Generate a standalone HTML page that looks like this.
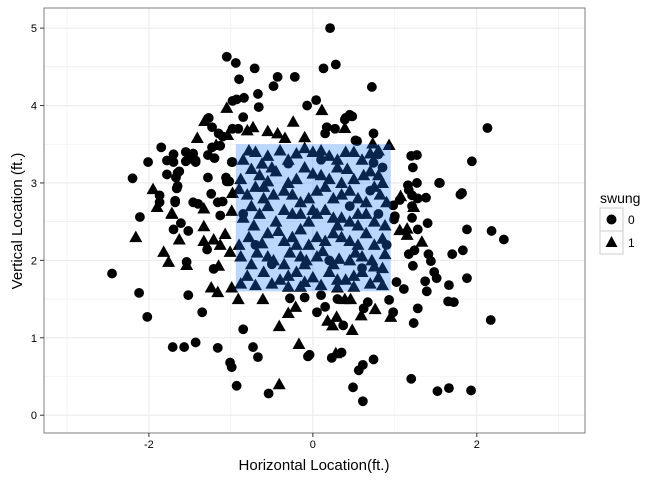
<!DOCTYPE html>
<html><head><meta charset="utf-8"><style>
body{margin:0;background:#fff;font-family:"Liberation Sans",sans-serif}
</style></head><body>
<svg id="chart" width="672" height="480" xmlns="http://www.w3.org/2000/svg" font-family="Liberation Sans, sans-serif">
<g id="grid"></g>
<g id="points"></g>
<rect id="zone" fill="rgba(30,120,255,0.3)"></rect>
<rect x="44" y="8" width="541" height="425" fill="none" stroke="#7f7f7f" stroke-width="1"/>
<g id="axes"></g>
<text x="314" y="470" text-anchor="middle" font-size="15">Horizontal Location(ft.)</text>
<text transform="translate(22,221) rotate(-90)" text-anchor="middle" font-size="15">Vertical Location (ft.)</text>
<g>
<text x="600" y="203" font-size="14">swung</text>
<rect x="600" y="208" width="23" height="23" fill="#fff" stroke="#ccc"/>
<circle cx="611.5" cy="219.5" r="5" fill="#000"/>
<text x="628" y="224" font-size="12">0</text>
<rect x="600" y="231" width="23" height="23" fill="#fff" stroke="#ccc"/>
<polygon points="611.5,236 617.5,247 605.5,247" fill="#000"/>
<text x="628" y="247" font-size="12">1</text>
</g>
</svg>
<script>
const xTicks=[-2,0,2];
const yTicks=[0,1,2,3,4,5];
const zoneX=[-0.94,0.95];
const zoneY=[1.6,3.5];
const circles=[[0.21,5.0],[-1.05,4.63],[-0.94,4.55],[-0.71,4.48],[0.13,4.48],[0.28,4.53],[-0.22,4.37],[-0.43,4.37],[-0.9,4.34],[0.72,4.24],[-0.48,4.25],[-0.67,4.15],[-0.93,4.08],[-0.84,4.1],[0.04,4.07],[-0.07,4.0],[-0.66,3.98],[0.45,3.88],[0.4,3.84],[0.17,3.72],[-0.85,3.85],[-0.98,3.7],[-1.23,3.72],[-1.1,3.6],[0.74,3.64],[0.52,3.55],[-1.13,3.48],[-1.28,3.36],[-1.7,3.27],[-1.55,3.28],[-1.46,3.38],[-1.43,3.27],[-1.2,3.32],[-0.99,3.27],[2.13,3.71],[1.94,3.28],[-2.2,3.06],[-1.65,3.13],[-1.66,2.93],[-1.28,3.07],[-1.05,3.02],[-1.68,2.75],[-1.16,2.75],[-1.87,2.84],[1.55,3.0],[1.8,2.85],[1.21,2.84],[1.28,2.8],[1.38,2.81],[1.21,2.7],[1.06,2.78],
[1.88,2.4],[2.18,2.38],[2.33,2.27],[1.0,2.57],[1.7,2.08],[1.83,2.13],[1.88,1.77],[2.17,1.23],[1.66,1.68],[1.72,1.46],[1.65,1.47],[1.51,1.77],[1.48,1.85],[1.44,1.99],[1.41,2.08],[1.37,1.73],[1.39,1.6],[1.28,1.38],[1.23,1.19],[1.22,1.93],[1.17,2.08],[1.24,2.13],[1.11,1.63],[1.02,1.72],[0.98,1.33],[0.93,1.49],[1.28,2.4],[1.4,2.48],[1.21,2.55],[0.99,2.53],[0.74,0.72],[0.61,0.65],[0.56,0.58],[0.35,0.81],[0.23,0.74],[0.49,0.36],[0.61,0.18],[1.2,0.47],[1.52,0.31],[1.66,0.35],[1.93,0.32],[-0.04,0.78],[0.37,1.16],[0.05,1.33],[0.15,1.4],[0.62,1.38],[0.67,1.46],
[0.48,3.86],[0.39,3.82],[0.27,3.7],[0.15,3.64],[0.54,3.54],[0.8,3.37],[0.74,3.26],[1.2,3.35],[1.27,3.36],[1.22,3.2],[1.16,2.97],[1.27,3.0],[1.17,2.91],[1.54,3.0],[1.82,2.87],[0.98,2.71],
[-0.98,4.06],[-1.27,3.84],[-1.15,3.64],[-0.91,3.7],[-1.85,3.46],[-1.7,3.37],[-1.55,3.4],[-1.51,3.31],[-1.43,3.29],[-1.23,3.46],[-2.01,3.27],[-1.78,3.29],[-1.63,3.15],[-1.78,3.11],[-1.67,3.07],[-1.65,2.96],[-0.98,3.27],[-1.06,3.07],[-1.02,3.02],[-1.24,2.86],[-1.68,2.77],[-1.87,2.75],[-1.46,2.75],[-1.4,2.73],[-1.1,2.76],[-2.11,2.56],
[-1.7,2.4],[-1.61,2.48],[-1.52,2.38],[-1.13,2.58],[-1.29,2.14],[-1.54,1.98],[-1.21,1.89],[-2.45,1.83],[-2.12,1.58],[-1.52,1.55],[-2.02,1.27],[-1.35,1.33],[-0.85,1.11],[-1.71,0.88],[-1.57,0.88],[-1.43,0.94],[-1.16,0.87],[-0.73,0.88],[-0.67,0.75],[-1.01,0.68],[-0.99,0.62],[-0.93,0.38],[-0.54,0.28],[-0.06,0.76],[-0.28,1.51],[-0.1,1.52],[0.1,1.55],[0.3,1.5],
[0.85,3.2],[0.7,2.9],[-0.85,2.6],[0.9,2.2],[0.6,1.9],[-0.3,3.25],[0.2,2.0],[0.45,2.7],[-0.5,1.95],[0.1,3.3],[-0.7,2.2],[0.8,2.6]];
const triangles=[[0.11,3.94],[0.39,3.71],[0.73,3.51],[0.93,3.49],[1.07,2.83],[1.23,2.69],
[0.39,1.5],[0.46,1.5],[0.76,1.37],[0.59,1.29],[0.95,1.27],[0.29,1.27],[0.18,1.22],[0.24,1.16],[0.48,1.1],[0.28,0.8],[1.06,2.39],[1.15,2.41],[1.33,2.24],[1.15,2.33],
[-1.05,3.97],[-1.32,3.8],[-1.41,3.58],[-1.04,3.62],[-1.18,3.49],[-0.8,3.68],[-0.73,3.72],[-0.55,3.67],[-0.43,3.64],[-0.24,3.79],[-0.1,3.59],[-0.34,3.58],[-1.95,2.92],[-1.72,2.61],[-1.9,2.69],[-1.33,2.67],[-0.99,2.64],[-0.98,2.87],
[-2.16,2.3],[-1.63,2.27],[-1.33,2.44],[-1.33,2.25],[-1.21,2.27],[-1.13,2.2],[-1.07,2.34],[-1.01,2.11],[-1.82,2.11],[-1.76,1.98],[-1.54,1.94],[-1.15,1.93],[-1.24,1.65],[-1.16,1.59],[-0.99,1.65],[-0.91,1.5],[-0.61,1.5],[-0.3,1.32],[-0.21,1.4],[-0.41,1.15],[-0.17,0.92],[-0.41,0.4],[-1.72,2.6],
[-0.85,3.3],[-0.7,3.4],[-0.55,3.35],[-0.4,3.42],[-0.2,3.38],[0,3.4],[0.2,3.35],[0.4,3.4],[0.6,3.3],[0.8,3.42],
[-0.88,3.05],[-0.65,3.1],[-0.45,3.15],[-0.3,3.0],[-0.1,3.2],[0.1,3.1],[0.3,3.2],[0.5,3.05],[0.7,3.15],[0.85,3.0],
[-0.8,2.85],[-0.6,2.8],[-0.35,2.9],[-0.15,2.75],[0.05,2.9],[0.25,2.8],[0.45,2.9],[0.65,2.75],[0.82,2.85],
[-0.85,2.55],[-0.65,2.6],[-0.45,2.5],[-0.25,2.6],[-0.05,2.5],[0.15,2.65],[0.35,2.55],[0.55,2.6],[0.75,2.5],
[-0.78,2.3],[-0.55,2.35],[-0.35,2.25],[-0.15,2.4],[0.05,2.3],[0.25,2.35],[0.45,2.25],[0.65,2.35],[0.85,2.28],
[-0.88,2.05],[-0.68,2.1],[-0.48,2.0],[-0.28,2.1],[-0.08,2.0],[0.12,2.12],[0.32,2.02],[0.52,2.1],[0.72,2.0],[0.88,2.08],
[-0.8,1.8],[-0.6,1.85],[-0.4,1.75],[-0.2,1.85],[0,1.78],[0.2,1.85],[0.4,1.75],[0.6,1.85],[0.8,1.78],
[-0.7,1.68],[-0.3,1.66],[0.1,1.68],[0.5,1.66],[0.85,1.68],
[-0.5,3.2],[0.0,2.65],[-0.6,2.95],[0.35,3.0],[-0.2,2.2],[0.55,2.45],[-0.75,2.7],[0.75,1.92],[-0.1,1.95],[0.3,2.45],
[-0.78,3.42],[-0.62,3.25],[-0.3,3.3],[-0.1,3.45],[0.1,3.42],[0.3,3.3],[0.5,3.4],[0.7,3.38],
[-0.75,3.18],[-0.55,3.02],[-0.2,3.05],[0.0,3.12],[0.2,3.05],[0.42,3.18],[0.62,3.1],[0.8,3.1],
[-0.9,2.92],[-0.7,2.95],[-0.48,2.85],[-0.25,2.85],[-0.05,2.8],[0.15,2.95],[0.35,2.85],[0.55,2.8],[0.75,2.95],[0.9,2.75],
[-0.72,2.45],[-0.55,2.7],[-0.35,2.65],[-0.15,2.6],[0.05,2.6],[0.25,2.55],[0.45,2.5],[0.65,2.6],[0.88,2.45],
[-0.9,2.2],[-0.62,2.22],[-0.42,2.38],[-0.25,2.3],[-0.05,2.2],[0.15,2.25],[0.35,2.3],[0.55,2.2],[0.75,2.2],
[-0.75,1.95],[-0.55,2.05],[-0.35,1.95],[-0.15,2.05],[0.05,2.05],[0.25,1.95],[0.45,2.0],[0.6,2.05],[0.85,1.9],
[-0.88,1.7],[-0.5,1.7],[-0.3,1.8],[-0.1,1.72],[0.3,1.75],[0.5,1.8],[0.7,1.7],[-0.15,1.66],[0.3,1.65]];
const NS='http://www.w3.org/2000/svg';
const L=44,R=585,T=8,B=433;
const xMin=-3.28,xMax=3.32,yMin=-0.23,yMax=5.26;
function sx(v){return L+(v-xMin)/(xMax-xMin)*(R-L);}
function sy(v){return B-(v-yMin)/(yMax-yMin)*(B-T);}
function mk(tag,attrs,parent){const e=document.createElementNS(NS,tag);for(const k in attrs)e.setAttribute(k,attrs[k]);parent.appendChild(e);return e;}
const grid=document.getElementById('grid');
for(let v=-3;v<=3;v+=1){const l=mk('line',{x1:sx(v),x2:sx(v),y1:T,y2:B,stroke:'#ebebeb','stroke-width':(v%2===0)?1.1:0.6},grid);

}
for(let v=0;v<=5;v+=0.5){const l=mk('line',{x1:L,x2:R,y1:sy(v),y2:sy(v),stroke:'#ebebeb','stroke-width':(v%1===0)?1.1:0.6},grid);

}
const pts=document.getElementById('points');
circles.forEach(p=>{const c=mk('circle',{cx:sx(p[0]),cy:sy(p[1]),r:4.9,fill:'#000'},pts);

});
triangles.forEach(p=>{const x=sx(p[0]),y=sy(p[1]);const t=mk('polygon',{points:`${x},${y-6.5} ${x+6.5},${y+5} ${x-6.5},${y+5}`,fill:'#000'},pts);

});
const z=document.getElementById('zone');
z.setAttribute('x',sx(zoneX[0]));z.setAttribute('width',sx(zoneX[1])-sx(zoneX[0]));
z.setAttribute('y',sy(zoneY[1]));z.setAttribute('height',sy(zoneY[0])-sy(zoneY[1]));
const ax=document.getElementById('axes');
xTicks.forEach(v=>{const l=mk('line',{x1:sx(v),x2:sx(v),y1:B,y2:B+4,stroke:'#333'},ax);


const t=mk('text',{x:sx(v),y:B+15,'text-anchor':'middle','font-size':11,fill:'#000'},ax);t.textContent=v;

});
yTicks.forEach(v=>{const l=mk('line',{x1:L-4,x2:L,y1:sy(v),y2:sy(v),stroke:'#333'},ax);


const t=mk('text',{x:L-7,y:sy(v)+4,'text-anchor':'end','font-size':11,fill:'#000'},ax);t.textContent=v;

});
</script>
</body></html>
